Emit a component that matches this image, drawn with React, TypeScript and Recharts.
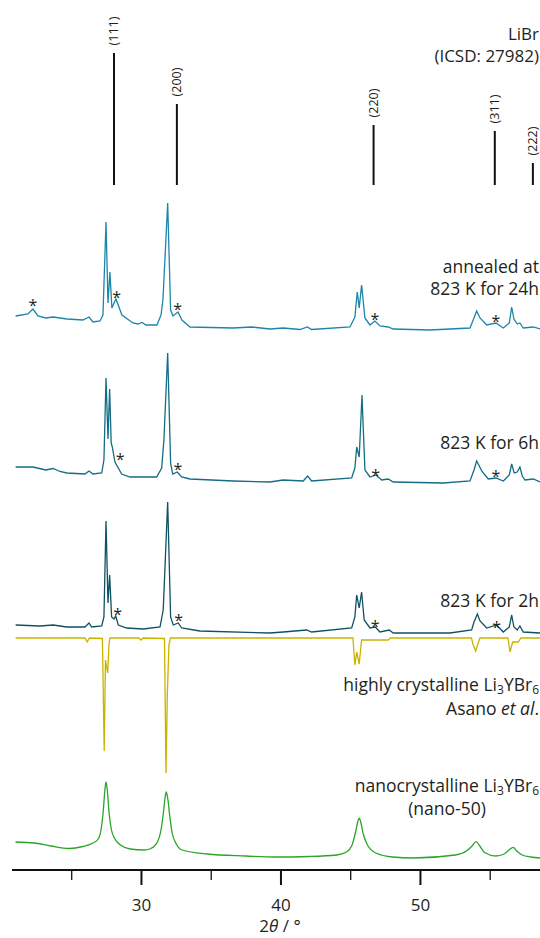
import React from 'react';
import { ComposedChart, Line, Scatter, XAxis, YAxis, ReferenceLine } from 'recharts';

// 2θ (°) and stacked intensity (a.u., offsets included)
const theta24h = [20.98, 21.86, 22.22, 22.58, 23.15, 23.66, 24.66, 25.81, 26.24, 26.52, 27.03, 27.24, 27.46, 27.6, 27.74, 27.88, 28.17, 28.6, 29.39, 29.75, 30.04, 30.32, 31.11, 31.4, 31.54, 31.88, 32.09, 32.26, 32.62, 32.9, 33.48, 36.56, 37.92, 39.21, 40.16, 41.36, 41.89, 42.2, 44.95, 45.3, 45.47, 45.61, 45.78, 46.02, 46.38, 46.74, 47.1, 47.69, 48.05, 50.68, 53.55, 53.78, 54.03, 54.27, 54.75, 55.41, 55.94, 56.37, 56.54, 56.7, 56.94, 57.13, 57.37, 58.09, 58.57];
const int24h = [554, 556, 561, 554, 552, 553, 551, 550, 553, 548, 549, 555, 648, 567, 598, 562, 571, 555, 547, 546, 547.5, 545, 545, 555, 570, 667, 560, 554, 558, 550, 543, 542, 543, 541, 542, 540.5, 543, 540.5, 543, 553, 578, 562, 585, 552, 545, 549, 544, 543, 541, 540, 542, 550, 559, 552, 545, 547, 542, 547, 563, 551, 546, 547, 542, 543, 541];

const theta6h = [20.98, 22.22, 23.15, 23.66, 24.16, 24.66, 25.95, 26.24, 26.52, 27.15, 27.31, 27.46, 27.6, 27.72, 27.83, 27.91, 28.1, 28.58, 29.18, 31.09, 31.45, 31.61, 31.88, 32.09, 32.24, 32.57, 32.88, 33.48, 36.58, 39.21, 40.16, 41.6, 41.91, 42.2, 45.07, 45.3, 45.43, 45.61, 45.81, 45.9, 46.02, 46.38, 46.81, 47.22, 47.69, 48.05, 51.63, 53.55, 53.84, 54.03, 54.22, 54.39, 54.86, 55.41, 55.94, 56.37, 56.54, 56.72, 56.94, 57.13, 57.3, 57.49, 58.09, 58.57];
const int6h = [403, 403, 400, 401.5, 398.5, 397, 396, 399, 396, 397, 410, 492, 431, 481, 427, 423, 408, 396, 393, 393, 402, 430, 517, 407, 396, 398, 393, 391, 389, 388, 390, 389, 394, 389, 392, 402, 423, 413, 475, 442, 400, 393, 395, 390, 391, 388, 387, 389, 400, 409, 404, 399, 391, 392, 389, 395, 406, 397, 398, 403, 394, 390, 391, 388];

const theta2h = [20.98, 22.72, 23.68, 24.64, 25.95, 26.24, 26.43, 27.15, 27.31, 27.46, 27.6, 27.72, 27.86, 28.03, 28.15, 28.34, 28.94, 30.13, 31.33, 31.56, 31.88, 32.09, 32.28, 32.64, 32.88, 34.19, 39.21, 40.16, 41.84, 42.2, 45.07, 45.3, 45.43, 45.61, 45.78, 45.97, 46.38, 46.76, 47.1, 47.76, 48.05, 52.11, 53.67, 53.84, 54.08, 54.27, 54.75, 55.46, 55.94, 56.37, 56.54, 56.7, 56.94, 57.13, 57.37, 58.57];
const int2h = [245, 244, 245, 243, 243, 247, 243, 244, 253, 349, 267, 295, 253, 251, 254, 245, 242, 241, 243, 260, 368, 253, 245, 247, 242, 239, 237, 238, 240, 238, 242, 253, 275, 262, 278, 250, 242, 243, 238, 240, 237, 237, 240, 248, 256, 249, 242, 245, 238, 243, 255, 243, 240, 244, 238, 237];

// Asano et al. reference pattern, drawn inverted
const thetaAsano = [20.98, 25.95, 26.11, 26.27, 27.2, 27.33, 27.42, 27.58, 27.67, 27.74, 29.82, 29.96, 30.11, 31.65, 31.76, 31.85, 31.97, 32.08, 45.16, 45.3, 45.43, 45.61, 45.78, 47.69, 47.85, 53.66, 53.78, 53.96, 54.14, 54.27, 56.27, 56.42, 56.61, 57.01, 57.2, 58.57];
const intAsano = [232, 232, 228, 232, 231.5, 119, 210, 197, 225, 232, 232, 230, 232, 231.5, 97, 173, 225, 232, 232, 205, 218, 206, 230, 230, 232, 232, 225, 219, 227, 232, 232, 218, 228, 228, 232, 232];

const thetaNano = [20.97, 22.3, 23.5, 24.8, 25.8, 26.52, 26.9, 27.1, 27.25, 27.38, 27.46, 27.55, 27.68, 27.85, 28.1, 28.5, 29.2, 30.2, 30.6, 31.1, 31.4, 31.58, 31.7, 31.78, 31.88, 32.02, 32.2, 32.5, 32.9, 34.7, 37.5, 39.6, 42, 44, 44.7, 45.1, 45.35, 45.5, 45.61, 45.72, 45.9, 46.2, 46.8, 48, 49.5, 52.5, 53.3, 53.7, 53.99, 54.25, 54.6, 55.4, 56, 56.35, 56.64, 56.9, 57.3, 57.9, 58.57];
const intNano = [28, 27, 24, 21.5, 23.5, 27, 31, 40, 57, 80, 88, 80, 57, 40, 31, 25, 21, 20, 21, 27, 40, 58, 73, 78, 72, 55, 37, 26, 20, 16, 14, 13, 13.5, 15, 18, 25, 38, 48, 52, 48, 36, 25, 17, 13, 12, 15, 19, 24, 28.4, 24, 17.5, 14, 16, 20, 22.6, 19, 15, 13, 12];

// LiBr (ICSD: 27982) reflections
const librHkl = ['(111)', '(200)', '(220)', '(311)', '(222)'];
const librTheta = [28.03, 32.54, 46.64, 55.33, 58.06];
const librInt = [132, 81, 60, 54, 22];
const librBase = 685;

// impurity markers (*)
const starTheta = [22.22, 28.22, 32.59, 46.74, 55.41, 28.48, 32.62, 46.79, 55.41, 28.29, 32.67, 46.76, 55.46];
const starInt = [568, 576, 564, 554, 552, 414, 404, 398, 397, 259, 253, 247, 246];

const xTicks = [25, 30, 35, 40, 45, 50, 55];
const majorTicks = [30, 40, 50];

const zip = (xs: number[], ys: number[]) => xs.map((x, i) => ({ x, y: ys[i] }));

const FONT = "'Open Sans', sans-serif";
const TEXT = '#231f20';

const AxisTick = (props: any) => {
    const { x, y, payload } = props;
    const major = majorTicks.includes(payload.value);
    return (
        <g>
            <line x1={x} x2={x} y1={y} y2={y + (major ? 15 : 10)} stroke="#111" strokeWidth={major ? 2 : 1.3} />
            {major && (
                <text x={x} y={y + 41} textAnchor="middle" fontSize={17} fill={TEXT} fontFamily={FONT}>
                    {payload.value}
                </text>
            )}
        </g>
    );
};

const Star = (props: any) => (
    <text x={props.cx} y={props.cy + 9} textAnchor="middle" fontSize={16} fill={TEXT} fontFamily={FONT}>
        *
    </text>
);

const HklLabel = (text: string) => (props: any) => {
    const vb = props.viewBox;
    const cx = vb.x;
    const cy = vb.y - 22;
    return (
        <text
            x={cx}
            y={cy}
            transform={`rotate(-90 ${cx} ${cy})`}
            textAnchor="middle"
            dominantBaseline="central"
            fontSize={12.5}
            fill={TEXT}
            fontFamily={FONT}
        >
            {text}
        </text>
    );
};

const lbl = { fontSize: 17.5, fill: TEXT, fontFamily: FONT, textAnchor: 'end' as const };

const Li3YBr6 = () => (
    <>
        Li<tspan dy={3} fontSize={12}>3</tspan>
        <tspan dy={-3}>YBr</tspan>
        <tspan dy={3} fontSize={12}>6</tspan>
    </>
);

export default function App() {
    return (
        <div style={{ position: 'absolute', left: 0, top: 0, width: 540, height: 938, background: '#fff' }}>
            <ComposedChart width={540} height={938} margin={{ top: 0, right: 0, bottom: 0, left: 12 }}>
                <XAxis
                    type="number"
                    dataKey="x"
                    domain={[20.72, 58.57]}
                    allowDataOverflow
                    ticks={xTicks}
                    tick={<AxisTick />}
                    tickLine={false}
                    tickSize={0}
                    tickMargin={0}
                    height={68}
                    axisLine={{ stroke: '#111', strokeWidth: 2 }}
                />
                <YAxis type="number" dataKey="y" domain={[0, 870]} hide />

                {libroLines()}

                <Line data={zip(theta24h, int24h)} dataKey="y" type="linear" stroke="#1b86a9" strokeWidth={1.3} dot={false} isAnimationActive={false} />
                <Line data={zip(theta6h, int6h)} dataKey="y" type="linear" stroke="#126d85" strokeWidth={1.3} dot={false} isAnimationActive={false} />
                <Line data={zip(theta2h, int2h)} dataKey="y" type="linear" stroke="#0e5261" strokeWidth={1.3} dot={false} isAnimationActive={false} />
                <Line data={zip(thetaAsano, intAsano)} dataKey="y" type="linear" stroke="#c8b300" strokeWidth={1.3} dot={false} isAnimationActive={false} />
                <Line data={zip(thetaNano, intNano)} dataKey="y" type="monotone" stroke="#2aa52a" strokeWidth={1.3} dot={false} isAnimationActive={false} />
                <Scatter data={zip(starTheta, starInt)} dataKey="y" shape={<Star />} isAnimationActive={false} />

                <text x={539} y={40} {...lbl} fontSize={17}>LiBr</text>
                <text x={539} y={62} {...lbl} fontSize={17}>(ICSD: 27982)</text>
                <text x={539} y={273} {...lbl}>annealed at</text>
                <text x={539} y={295} {...lbl}>823 K for 24h</text>
                <text x={539} y={449} {...lbl}>823 K for 6h</text>
                <text x={539} y={607} {...lbl}>823 K for 2h</text>
                <text x={539} y={691} {...lbl}>
                    highly crystalline <Li3YBr6 />
                </text>
                <text x={539} y={715} {...lbl}>
                    Asano <tspan fontStyle="italic">et al</tspan>.
                </text>
                <text x={539} y={792} {...lbl}>
                    nanocrystalline <Li3YBr6 />
                </text>
                <text x={447} y={815} fontSize={17.5} fill={TEXT} fontFamily={FONT} textAnchor="middle">(nano-50)</text>
                <text x={280} y={932} fontSize={17} fill={TEXT} fontFamily={FONT} textAnchor="middle">
                    2<tspan fontStyle="italic">θ</tspan> / °
                </text>
            </ComposedChart>
        </div>
    );
}

function libroLines() {
    return librTheta.map((t, i) => (
        <ReferenceLine
            key={librHkl[i]}
            segment={[
                { x: t, y: librBase },
                { x: t, y: librBase + librInt[i] },
            ]}
            stroke="#111"
            strokeWidth={2}
            ifOverflow="extendDomain"
            label={HklLabel(librHkl[i])}
        />
    ));
}
